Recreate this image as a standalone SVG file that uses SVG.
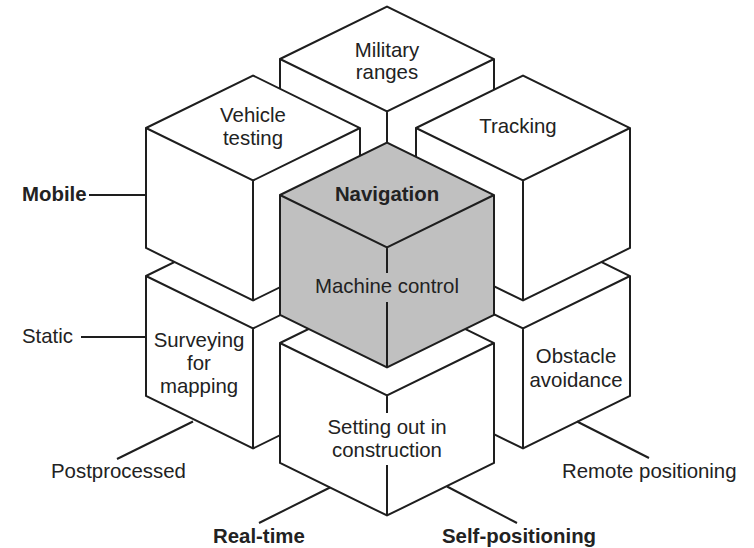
<svg xmlns="http://www.w3.org/2000/svg" width="754" height="548" viewBox="0 0 754 548">
<style>
.face{fill:#ffffff;stroke:#1e1e1e;stroke-width:2;stroke-linejoin:miter}
.grey{fill:#c0c0c0}
.edge{fill:none;stroke:#1e1e1e;stroke-width:2}
.lbl{font-family:"Liberation Sans",Arial,Helvetica,sans-serif;font-size:20.4px;fill:#222}
.c{text-anchor:middle}
.b{font-weight:bold}
</style>
<rect width="754" height="548" fill="#ffffff"/>
<g id="surveying">
<path class="face" d="M146,276 L253,223.5 L360,276 L360,396 L253,448.5 L146,396 Z"/>
<path class="edge" d="M146,276 L253,328.5 L360,276 M253,328.5 L253,448.5"/>
<text class="lbl c" x="199" y="347">Surveying</text>
<text class="lbl c" x="199" y="370">for</text>
<text class="lbl c" x="199" y="393">mapping</text>
</g>
<g id="obstacle">
<path class="face" d="M416,276 L523,223.5 L630,276 L630,396 L523,448.5 L416,396 Z"/>
<path class="edge" d="M416,276 L523,328.5 L630,276 M523,328.5 L523,448.5"/>
<text class="lbl c" x="576" y="363">Obstacle</text>
<text class="lbl c" x="576" y="387">avoidance</text>
</g>
<g id="setting-out">
<path class="face" d="M280,343 L387,290.5 L494,343 L494,463 L387,515.5 L280,463 Z"/>
<path class="edge" d="M280,343 L387,395.5 L494,343 M387,395.5 L387,413 M387,465 L387,515.5"/>
<text class="lbl c" x="387" y="434">Setting out in</text>
<text class="lbl c" x="387" y="457">construction</text>
</g>
<g id="military">
<path class="face" d="M280,59 L387,6.5 L494,59 L494,179 L387,231.5 L280,179 Z"/>
<path class="edge" d="M280,59 L387,111.5 L494,59 M387,111.5 L387,231.5"/>
<text class="lbl c" x="387" y="57">Military</text>
<text class="lbl c" x="387" y="79">ranges</text>
</g>
<g id="vehicle">
<path class="face" d="M146,128 L253,75.5 L360,128 L360,248 L253,300.5 L146,248 Z"/>
<path class="edge" d="M146,128 L253,180.5 L360,128 M253,180.5 L253,300.5"/>
<text class="lbl c" x="253" y="122">Vehicle</text>
<text class="lbl c" x="253" y="145">testing</text>
</g>
<g id="tracking">
<path class="face" d="M416,128 L523,75.5 L630,128 L630,248 L523,300.5 L416,248 Z"/>
<path class="edge" d="M416,128 L523,180.5 L630,128 M523,180.5 L523,300.5"/>
<text class="lbl c" x="518" y="133">Tracking</text>
</g>
<g id="navigation">
<path class="face grey" d="M280,195 L387,142.5 L494,195 L494,315 L387,367.5 L280,315 Z"/>
<path class="edge" d="M280,195 L387,247.5 L494,195 M387,247.5 L387,273 M387,302 L387,367.5"/>
<text class="lbl c b" x="387" y="201">Navigation</text>
<text class="lbl c" x="387" y="293">Machine control</text>
</g>
<g id="connectors">
<path class="edge" d="M89,195 L146,195"/>
<path class="edge" d="M81,337 L146,337"/>
<path class="edge" d="M117,459 L193,421.5"/>
<path class="edge" d="M259,523 L330,487.5"/>
<path class="edge" d="M447,486.5 L517,523"/>
<path class="edge" d="M577,421.5 L649,458"/>
</g>
<g id="labels">
<text class="lbl b" x="22" y="200.5">Mobile</text>
<text class="lbl" x="22" y="343">Static</text>
<text class="lbl" x="51" y="478">Postprocessed</text>
<text class="lbl b" x="213" y="543">Real-time</text>
<text class="lbl b" x="442" y="543">Self-positioning</text>
<text class="lbl" x="562" y="478">Remote positioning</text>
</g>
</svg>
